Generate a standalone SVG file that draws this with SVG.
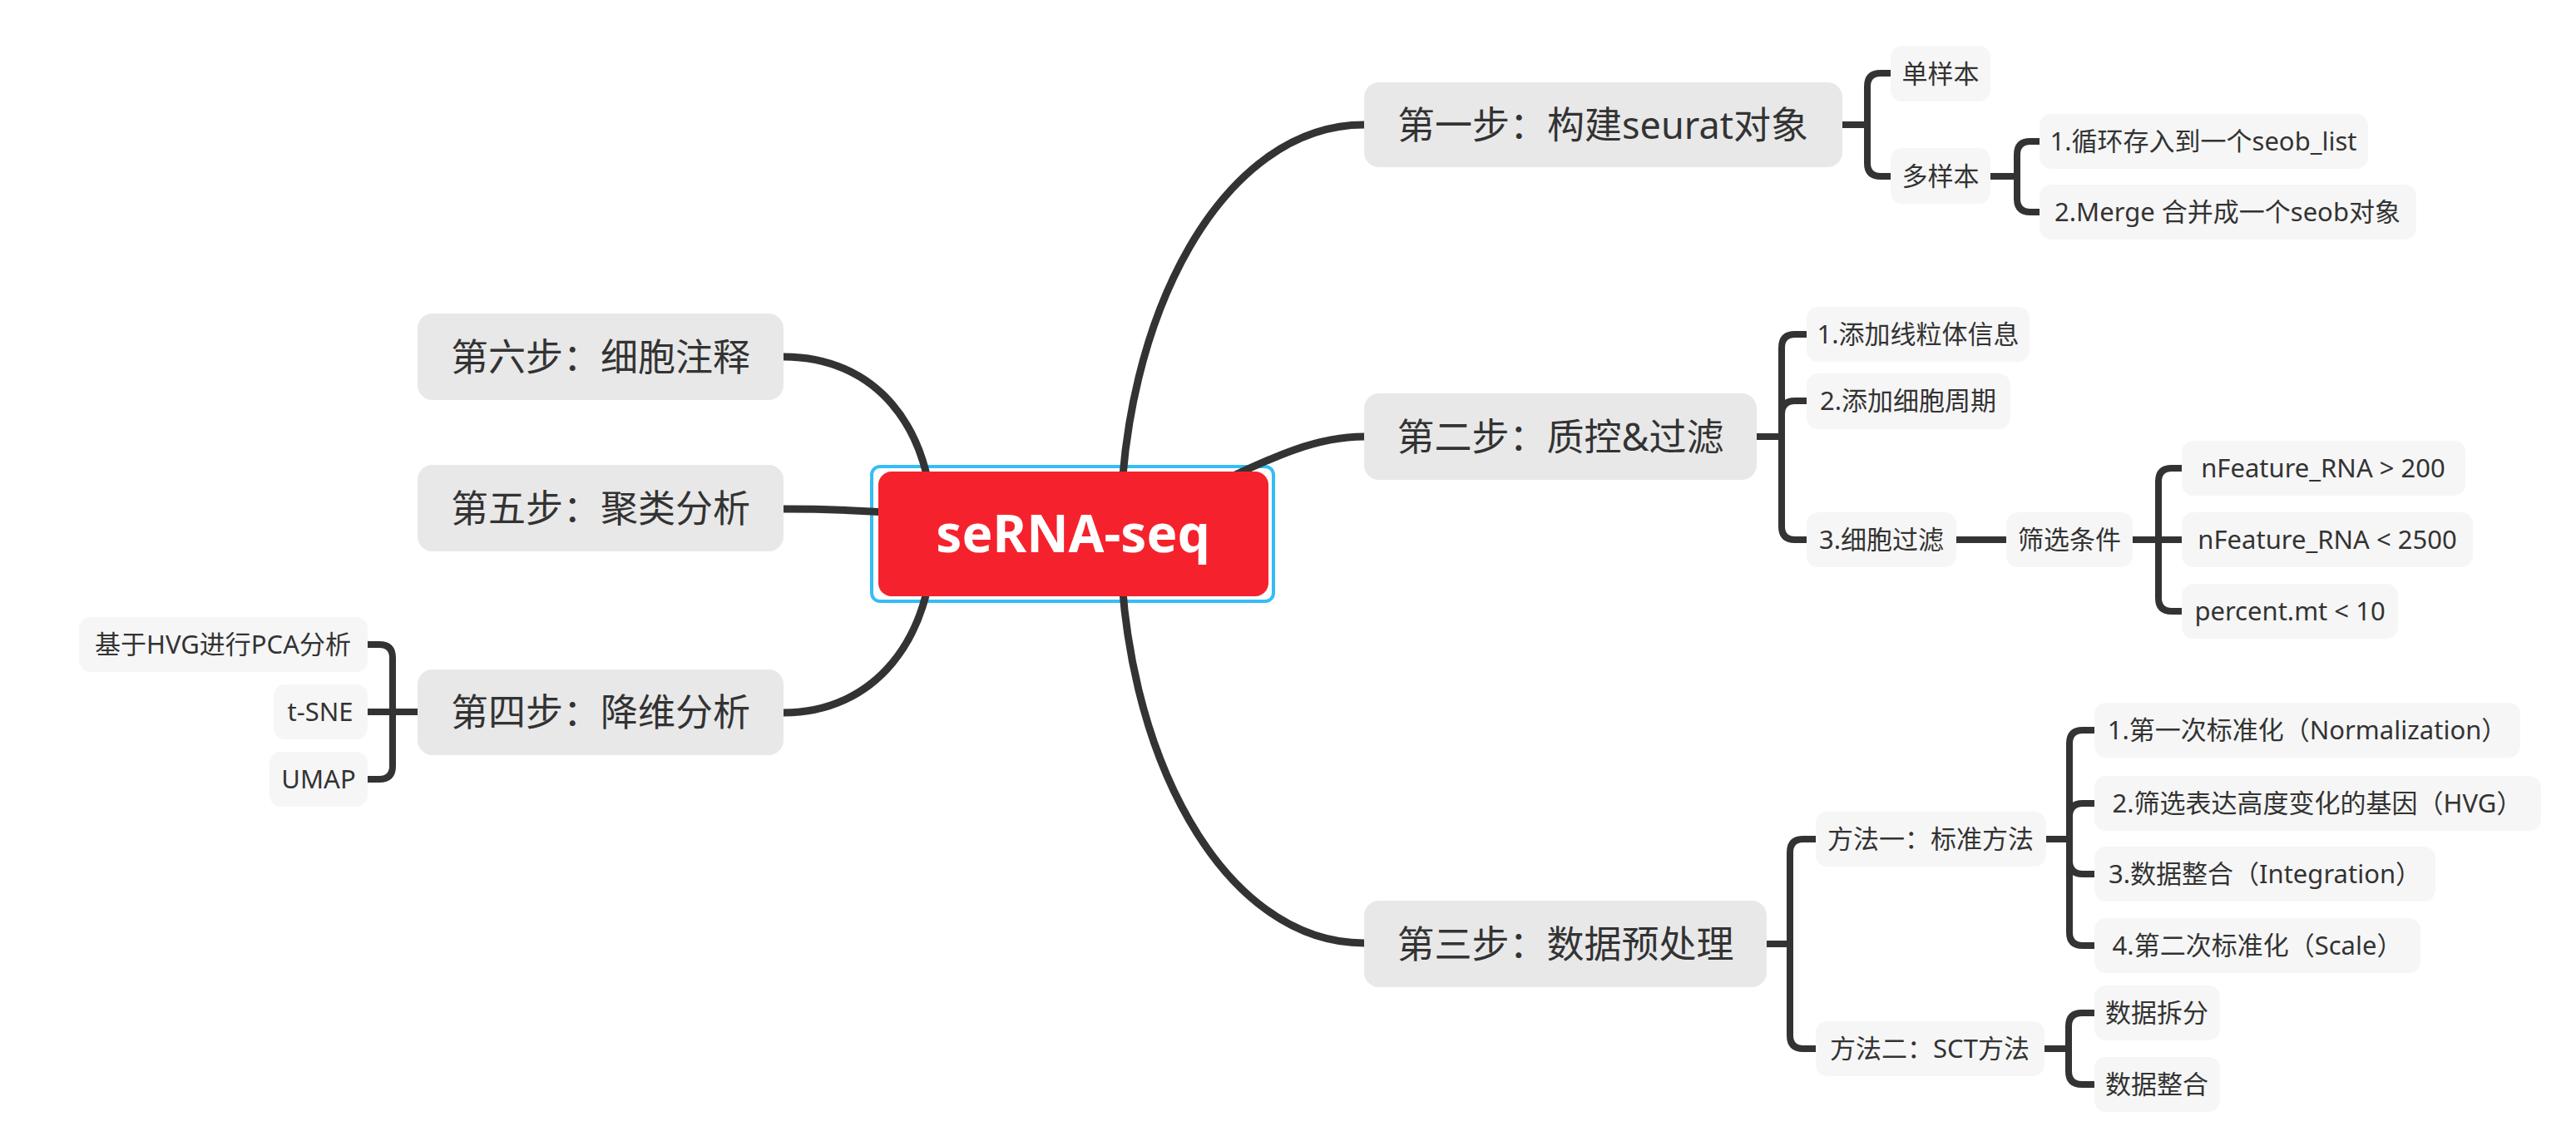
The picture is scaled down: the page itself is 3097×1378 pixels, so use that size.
<svg xmlns="http://www.w3.org/2000/svg" width="3097" height="1378" viewBox="0 0 3097 1378">
<style>
text{font-family:"Noto Sans","Noto Sans CJK SC",sans-serif;fill:#333;text-anchor:middle}
.main{fill:none;stroke:#333;stroke-width:9;stroke-linecap:round}
.sub{fill:none;stroke:#333;stroke-width:8;stroke-linecap:butt}
.step rect{fill:#e8e8e8}
.step text{font-size:45px}
.leaf rect{fill:#f6f6f6}
.leaf text{font-size:31px}
</style>
<rect width="3097" height="1378" fill="#fff"/>
<g id="root-selection"><rect x="1048" y="561" width="483" height="162" rx="10" fill="#fff" stroke="#35bdf7" stroke-width="4"/></g>
<g id="connectors">
<path class="main" d="M1347 642C1347 380 1470 150 1640 150"/>
<path class="main" d="M1290 642C1440 615 1530 525 1640 525"/>
<path class="main" d="M1347 642C1347 904 1470 1134 1640 1134"/>
<path class="main" d="M1122 642C1122 510 1050 429 942 429"/>
<path class="main" d="M1290 642C1150 620 1050 612 942 612"/>
<path class="main" d="M1122 642C1122 770 1050 857 942 857"/>
<path class="sub" d="M2215 150H2245M2245 150V104Q2245 88 2261 88H2273M2245 150V196Q2245 212 2261 212H2273"/>
<path class="sub" d="M2393 212H2425M2425 212V186Q2425 170 2441 170H2452M2425 212V239Q2425 255 2441 255H2452"/>
<path class="sub" d="M2112 525H2142M2142 525V418Q2142 402 2158 402H2172M2142 525V498Q2142 482 2158 482H2172M2142 525V633Q2142 649 2158 649H2172"/>
<path class="sub" d="M2352 649H2412"/>
<path class="sub" d="M2564 649H2623M2595 649V579Q2595 563 2611 563H2623M2595 649V719Q2595 735 2611 735H2623"/>
<path class="sub" d="M2124 1135H2152M2152 1135V1025Q2152 1009 2168 1009H2183M2152 1135V1245Q2152 1261 2168 1261H2183"/>
<path class="sub" d="M2460 1009H2488M2488 1009V894Q2488 878 2504 878H2518M2488 1009V982Q2488 966 2504 966H2518M2488 1009V1035Q2488 1051 2504 1051H2518M2488 1009V1121Q2488 1137 2504 1137H2518"/>
<path class="sub" d="M2458 1261H2487M2487 1261V1234Q2487 1218 2503 1218H2518M2487 1261V1288Q2487 1304 2503 1304H2518"/>
<path class="sub" d="M502 856H442M472 856V791Q472 775 456 775H442M472 856V921Q472 937 456 937H442"/>
</g>
<g id="root"><rect x="1056" y="567" width="469" height="150" rx="16" fill="#f5222d"/><text x="1290" y="664" style="font-family:'Noto Sans','Liberation Sans',sans-serif;font-weight:bold;font-size:62px;fill:#fff">seRNA-seq</text></g>
<g id="step1" class="step"><rect x="1640" y="99" width="575" height="102" rx="18"/><text x="1927" y="167">第一步：构建seurat对象</text></g>
<g id="step2" class="step"><rect x="1640" y="473" width="472" height="104" rx="18"/><text x="1876" y="542">第二步：质控&amp;过滤</text></g>
<g id="step3" class="step"><rect x="1640" y="1083" width="484" height="104" rx="18"/><text x="1882" y="1152">第三步：数据预处理</text></g>
<g id="step6" class="step"><rect x="502" y="377" width="440" height="104" rx="18"/><text x="722" y="446">第六步：细胞注释</text></g>
<g id="step5" class="step"><rect x="502" y="559" width="440" height="104" rx="18"/><text x="722" y="628">第五步：聚类分析</text></g>
<g id="step4" class="step"><rect x="502" y="805" width="440" height="103" rx="18"/><text x="722" y="873">第四步：降维分析</text></g>
<g id="n-single" class="leaf"><rect x="2273" y="55" width="120" height="67" rx="14"/><text x="2333" y="100">单样本</text></g>
<g id="n-multi" class="leaf"><rect x="2273" y="178" width="120" height="67" rx="14"/><text x="2333" y="223">多样本</text></g>
<g id="n-loop" class="leaf"><rect x="2452" y="137" width="395" height="66" rx="14"/><text x="2649" y="181">1.循环存入到一个seob_list</text></g>
<g id="n-merge" class="leaf"><rect x="2452" y="222" width="453" height="66" rx="14"/><text x="2678" y="266">2.Merge 合并成一个seob对象</text></g>
<g id="n-mito" class="leaf"><rect x="2172" y="369" width="268" height="66" rx="14"/><text x="2306" y="413">1.添加线粒体信息</text></g>
<g id="n-cycle" class="leaf"><rect x="2172" y="449" width="245" height="67" rx="14"/><text x="2294" y="493">2.添加细胞周期</text></g>
<g id="n-filter" class="leaf"><rect x="2172" y="616" width="180" height="66" rx="14"/><text x="2262" y="660">3.细胞过滤</text></g>
<g id="n-cond" class="leaf"><rect x="2412" y="616" width="152" height="66" rx="14"/><text x="2488" y="660">筛选条件</text></g>
<g id="n-c1" class="leaf"><rect x="2623" y="530" width="341" height="66" rx="14"/><text x="2793" y="574">nFeature_RNA &gt; 200</text></g>
<g id="n-c2" class="leaf"><rect x="2623" y="616" width="350" height="66" rx="14"/><text x="2798" y="660">nFeature_RNA &lt; 2500</text></g>
<g id="n-c3" class="leaf"><rect x="2623" y="702" width="260" height="66" rx="14"/><text x="2753" y="746">percent.mt &lt; 10</text></g>
<g id="n-m1" class="leaf"><rect x="2183" y="976" width="277" height="66" rx="14"/><text x="2321" y="1020">方法一：标准方法</text></g>
<g id="n-m2" class="leaf"><rect x="2183" y="1228" width="275" height="66" rx="14"/><text x="2320" y="1272">方法二：SCT方法</text></g>
<g id="n-norm" class="leaf"><rect x="2518" y="845" width="512" height="66" rx="14"/><text x="2774" y="889">1.第一次标准化（Normalization）</text></g>
<g id="n-hvg" class="leaf"><rect x="2518" y="933" width="537" height="66" rx="14"/><text x="2786" y="977">2.筛选表达高度变化的基因（HVG）</text></g>
<g id="n-integ" class="leaf"><rect x="2518" y="1018" width="410" height="66" rx="14"/><text x="2723" y="1062">3.数据整合（Integration）</text></g>
<g id="n-scale" class="leaf"><rect x="2518" y="1104" width="392" height="66" rx="14"/><text x="2714" y="1148">4.第二次标准化（Scale）</text></g>
<g id="n-split" class="leaf"><rect x="2518" y="1185" width="151" height="66" rx="14"/><text x="2593" y="1229">数据拆分</text></g>
<g id="n-integ2" class="leaf"><rect x="2518" y="1271" width="151" height="66" rx="14"/><text x="2593" y="1315">数据整合</text></g>
<g id="n-pca" class="leaf"><rect x="95" y="742" width="347" height="66" rx="14"/><text x="268" y="786">基于HVG进行PCA分析</text></g>
<g id="n-tsne" class="leaf"><rect x="329" y="823" width="113" height="66" rx="14"/><text x="385" y="867">t-SNE</text></g>
<g id="n-umap" class="leaf"><rect x="324" y="904" width="118" height="66" rx="14"/><text x="383" y="948">UMAP</text></g>
</svg>
